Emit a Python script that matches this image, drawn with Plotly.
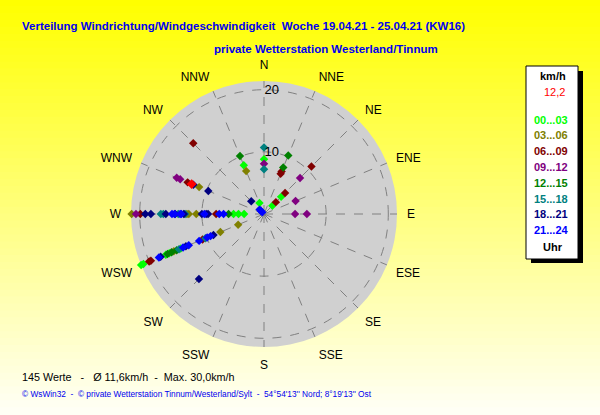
import plotly.graph_objects as go

# compass directions and their angle in degrees
compass = ["N", "NNE", "NE", "ENE", "E", "ESE", "SE", "SSE",
           "S", "SSW", "SW", "WSW", "W", "WNW", "NW", "NNW"]
compass_deg = [i * 22.5 for i in range(16)]

# hour classes shown in the legend box
hour_labels = ["00...03", "03...06", "06...09", "09...12",
               "12...15", "15...18", "18...21", "21...24"]
hour_colors = ["#00ff00", "#808000", "#800000", "#800080",
               "#008000", "#008080", "#000080", "#0000ff"]

# one entry per plotted value: direction, speed (km/h), hour class
directions = (
    ["W"] * 30 + ["WSW"] * 25 + ["SW"] + ["WNW"] * 6 + ["NW"] * 5
    + ["NNW"] * 4 + ["N"] * 4 + ["NNE"] * 4 + ["NE"] * 6 + ["ENE"] + ["E"] * 2
)
speeds = [
    # W
    21.3, 20.6, 19.9, 19.1, 18.2, 16.6, 16.2, 15.8, 14.8, 14.4,
    14.3, 13.8, 13.5, 13.3, 12.9, 12.7, 12.4, 12.1, 10.9, 10.0,
    9.6, 9.3, 9.0, 7.7, 7.2, 6.5, 5.7, 4.9, 4.1, 3.2,
    # WSW
    21.4, 21.0, 20.0, 19.7, 18.3, 18.0, 17.1, 16.8, 16.5, 16.1,
    15.7, 15.2, 14.8, 14.5, 14.1, 13.6, 13.1, 11.3, 10.7, 10.2,
    9.9, 9.3, 8.8, 7.6, 4.5,
    # SW
    14.8,
    # WNW
    15.2, 14.6, 13.3, 12.3, 11.3, 9.7,
    # NW
    16.1, 2.9, 1.0, 0.7, 0.4,
    # NNW
    10.1, 8.5, 7.5, 1.9,
    # N
    10.7, 8.8, 8.1, 7.2,
    # NNE
    10.2, 8.1, 7.4, 7.0,
    # NE
    10.8, 8.2, 4.8, 3.9, 2.7, 1.9,
    # ENE
    5.5,
    # E
    5.0, 6.9,
]
hours = [
    # W
    "03...06", "09...12", "06...09", "18...21", "18...21", "15...18", "15...18", "18...21", "21...24", "21...24",
    "18...21", "15...18", "21...24", "21...24", "18...21", "15...18", "03...06", "03...06", "03...06", "18...21",
    "21...24", "18...21", "18...21", "06...09", "21...24", "21...24", "12...15", "00...03", "00...03", "00...03",
    # WSW
    "00...03", "00...03", "06...09", "06...09", "21...24", "18...21", "00...03", "12...15", "00...03", "12...15",
    "03...06", "12...15", "15...18", "00...03", "21...24", "18...21", "21...24", "21...24", "06...09", "15...18",
    "21...24", "21...24", "18...21", "03...06", "03...06",
    # SW
    "18...21",
    # WNW
    "09...12", "09...12", "06...09", "18...21", "03...06", "18...21",
    # NW
    "06...09", "18...21", "21...24", "21...24", "21...24",
    # NNW
    "12...15", "00...03", "03...06", "00...03",
    # N
    "15...18", "00...03", "09...12", "15...18",
    # NNE
    "12...15", "12...15", "06...09", "06...09",
    # NE
    "06...09", "09...12", "06...09", "00...03", "06...09", "00...03",
    # ENE
    "09...12",
    # E
    "09...12", "09...12",
]

# current value
current_dir = "WNW"
current_speed = 12.6
current_label = "12,2"

summary = "145 Werte   -   Ø 11,6km/h  -  Max. 30,0km/h"
footer = ("© WsWin32  -  © private Wetterstation Tinnum/Westerland/Sylt  -  "
          "54°54'13'' Nord; 8°19'13'' Ost")

angle_of = dict(zip(compass, compass_deg))

fig = go.Figure()
for label, color in zip(hour_labels, hour_colors):
    r = [s for s, h in zip(speeds, hours) if h == label]
    t = [angle_of[d] for d, h in zip(directions, hours) if h == label]
    fig.add_trace(go.Scatterpolar(
        r=r, theta=t, mode="markers", name=label,
        marker=dict(symbol="diamond", size=6.5, color=color),
    ))
fig.add_trace(go.Scatterpolar(
    r=[current_speed], theta=[angle_of[current_dir]], mode="markers",
    marker=dict(symbol="diamond", size=7.5, color="#ff0000"),
))

# yellow gradient background
shapes = []
n = 60
for i in range(n):
    f = i / (n - 1)
    b = int(round(0 + 245 * f))
    shapes.append(dict(type="rect", xref="paper", yref="paper",
                       x0=0, x1=1, y0=1 - (i + 1) / n, y1=1 - i / n + 0.002,
                       fillcolor=f"rgb(255,255,{b})", line=dict(width=0), layer="below"))

# legend box with shadow
W, H = 600, 415
def px(x, y):
    return x / W, 1 - y / H

sx0, sy0 = px(531, 71)
sx1, sy1 = px(583, 263)
shapes.append(dict(type="rect", xref="paper", yref="paper", x0=sx0, y0=sy1, x1=sx1, y1=sy0,
                   fillcolor="#000000", line=dict(width=0), layer="above"))
bx0, by0 = px(526, 66)
bx1, by1 = px(578, 259)
shapes.append(dict(type="rect", xref="paper", yref="paper", x0=bx0, y0=by1, x1=bx1, y1=by0,
                   fillcolor="#ffffff", line=dict(color="#000000", width=1), layer="above"))

annotations = []
def text(x, y, s, color="#000000", size=12, xanchor="left", bold=False):
    xx, yy = px(x, y)
    annotations.append(dict(xref="paper", yref="paper", x=xx, y=yy, text=f"<b>{s}</b>" if bold else s,
                            showarrow=False, xanchor=xanchor, yanchor="middle",
                            font=dict(color=color, size=size, family="Liberation Sans")))

text(20, 26, "Verteilung Windrichtung/Windgeschwindigkeit  Woche 19.04.21 - 25.04.21 (KW16)",
     "#0000ee", 11.5, "left", True)
text(212, 49, "private Wetterstation Westerland/Tinnum", "#0000ee", 11.5, "left", True)
text(553, 76, "km/h", "#000000", 11, "center", True)
text(567, 92, current_label, "#ff0000", 11, "right")
for i, (label, color) in enumerate(zip(hour_labels, hour_colors)):
    text(532, 119.5 + i * 15.8, label, color, 11, "left", True)
text(553, 247, "Uhr", "#000000", 11, "center", True)
text(20, 377, summary, "#000000", 10.8)
text(20, 394, footer, "#0000ee", 8.3)

cx, cy, rad = 264, 214, 133
fig.update_layout(
    width=W, height=H,
    margin=dict(l=0, r=0, t=0, b=0),
    paper_bgcolor="#ffff80",
    showlegend=False,
    font=dict(family="Liberation Sans", size=12, color="#000000"),
    shapes=shapes,
    annotations=annotations,
    polar=dict(
        domain=dict(x=[(cx - rad) / W, (cx + rad) / W],
                    y=[1 - (cy + rad) / H, 1 - (cy - rad) / H]),
        bgcolor="#d0d0d0",
        angularaxis=dict(
            rotation=90, direction="clockwise", thetaunit="degrees",
            tickmode="array", tickvals=compass_deg, ticktext=compass,
            showline=False, ticks="outside", ticklen=7, tickcolor="rgba(0,0,0,0)",
            gridcolor="#808080", griddash="dash",
            gridwidth=1, tickfont=dict(size=12, color="#000000"),
        ),
        radialaxis=dict(
            range=[0, 21.4], tickmode="array", tickvals=[10, 20],
            tickprefix="\u00a0\u00a0\u00a0\u00a0\u00a0",
            showline=False, ticks="", angle=90, tickangle=90, gridcolor="#808080",
            griddash="dash", gridwidth=1, tickfont=dict(size=13, color="#000000"),
        ),
    ),
)

fig.write_html("out.html", config={"displayModeBar": False})

# drop the default page margin so the figure sits at the window's top-left
with open("out.html", encoding="utf-8") as f:
    page = f.read()
page = page.replace("<head>", "<head><style>body{margin:0;}</style>", 1)
with open("out.html", "w", encoding="utf-8") as f:
    f.write(page)
